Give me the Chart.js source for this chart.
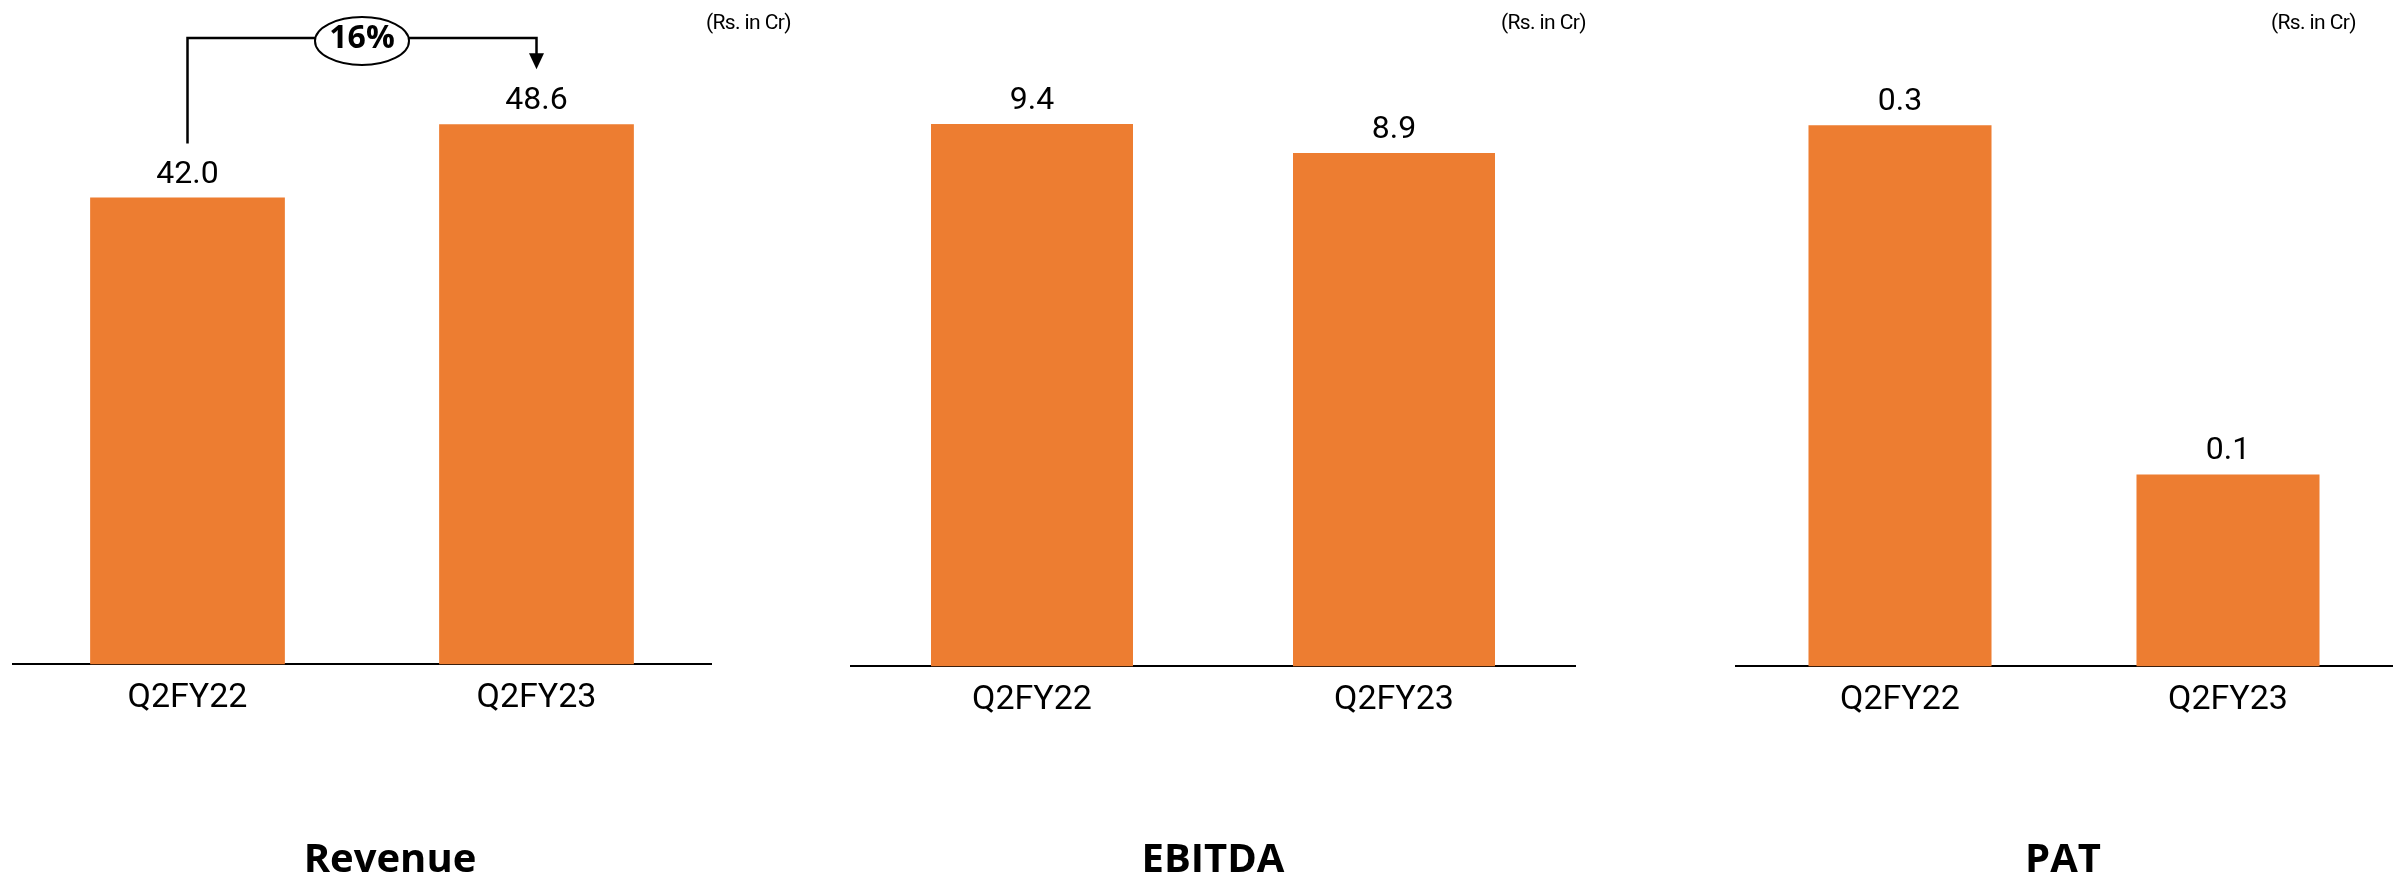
<!DOCTYPE html>
<html>
<head>
<meta charset="utf-8">
<script src="https://cdn.jsdelivr.net/npm/chart.js@4.4.1/dist/chart.umd.min.js"></script>
<style>
  html, body { margin: 0; padding: 0; background: #ffffff; }
  body { width: 2402px; height: 885px; position: relative; overflow: hidden; }
  .panel { position: absolute; top: 0; height: 885px; }
  .title { position: absolute; top: 837px; font-family: "Open Sans", sans-serif; font-weight: 700; font-size: 40px; line-height: 40px; color: #000; text-align: center; width: 400px; white-space: nowrap; }
  .unit { position: absolute; top: 12px; font-family: Roboto, sans-serif; font-size: 21px; line-height: 21px; letter-spacing: -0.6px; color: #000; text-align: right; width: 200px; white-space: nowrap; }
</style>
</head>
<body>
<div class="panel" style="left:0px;width:800px;"><canvas id="c1" width="800" height="885"></canvas></div>
<div class="panel" style="left:800px;width:820px;"><canvas id="c2" width="820" height="885"></canvas></div>
<div class="panel" style="left:1620px;width:782px;"><canvas id="c3" width="782" height="885"></canvas></div>

<div class="title" style="left:190px;">Revenue</div>
<div class="title" style="left:1013px;">EBITDA</div>
<div class="title" style="left:1863px;">PAT</div>

<div class="unit" style="left:591px;">(Rs. in Cr)</div>
<div class="unit" style="left:1386px;">(Rs. in Cr)</div>
<div class="unit" style="left:2156px;">(Rs. in Cr)</div>

<script>
// ---- data ----
const categories = ["Q2FY22", "Q2FY23"];
const revenueValues = [42.0, 48.6];
const ebitdaValues = [9.4, 8.9];
const patValues = [0.31, 0.11];
const panelTitles = ["Revenue", "EBITDA", "PAT"];
const unitLabel = "(Rs. in Cr)";

const BAR_COLOR = "#ED7D31";

const valueLabels = {
  id: "valueLabels",
  afterDatasetsDraw(chart) {
    const ctx = chart.ctx;
    const meta = chart.getDatasetMeta(0);
    const vals = chart.data.datasets[0].data;
    ctx.save();
    ctx.font = "32px Roboto";
    ctx.fillStyle = "#000";
    ctx.textAlign = "center";
    ctx.textBaseline = "alphabetic";
    meta.data.forEach((bar, i) => {
      ctx.fillText(vals[i].toFixed(1), bar.x, bar.y - 15);
    });
    ctx.restore();
  }
};

const growthArrow = {
  id: "growthArrow",
  afterDraw(chart) {
    const ctx = chart.ctx;
    const meta = chart.getDatasetMeta(0);
    const b0 = meta.data[0], b1 = meta.data[1];
    const v = chart.data.datasets[0].data;
    const pct = Math.round((v[1] / v[0] - 1) * 100) + "%";
    const yLine = 38;
    ctx.save();
    ctx.strokeStyle = "#000";
    ctx.fillStyle = "#000";
    ctx.lineWidth = 2.5;
    ctx.beginPath();
    ctx.moveTo(b0.x, b0.y - 54);
    ctx.lineTo(b0.x, yLine);
    ctx.lineTo(b1.x, yLine);
    ctx.lineTo(b1.x, b1.y - 70);
    ctx.stroke();
    // arrow head
    ctx.beginPath();
    ctx.moveTo(b1.x - 7.5, b1.y - 71);
    ctx.lineTo(b1.x + 7.5, b1.y - 71);
    ctx.lineTo(b1.x, b1.y - 55);
    ctx.closePath();
    ctx.fill();
    // ellipse
    const cx = (b0.x + b1.x) / 2;
    ctx.beginPath();
    ctx.ellipse(cx, 41, 47, 24, 0, 0, Math.PI * 2);
    ctx.fillStyle = "#fff";
    ctx.fill();
    ctx.lineWidth = 2;
    ctx.stroke();
    ctx.fillStyle = "#000";
    ctx.font = "700 32px 'Open Sans'";
    ctx.textAlign = "center";
    ctx.textBaseline = "alphabetic";
    ctx.fillText(pct, cx, 48);
    ctx.restore();
  }
};

function makeChart(id, values, yMax, pad, extraPlugins) {
  return new Chart(document.getElementById(id), {
    type: "bar",
    data: {
      labels: categories,
      datasets: [{
        data: values,
        backgroundColor: BAR_COLOR,
        borderWidth: 0,
        barPercentage: 0.558,
        categoryPercentage: 1.0
      }]
    },
    options: {
      responsive: false,
      animation: false,
      layout: { padding: pad },
      plugins: {
        legend: { display: false },
        tooltip: { enabled: false },
        title: { display: false }
      },
      scales: {
        x: {
          grid: { display: false, drawTicks: false },
          border: { display: true, color: "#000", width: 2 },
          ticks: {
            color: "#000",
            font: { family: "Roboto", size: 34 },
            padding: 14,
            maxRotation: 0
          }
        },
        y: {
          display: false,
          min: 0,
          max: yMax
        }
      }
    },
    plugins: [valueLabels].concat(extraPlugins || [])
  });
}

makeChart("c1", revenueValues, 54.37, { left: 13, right: 89, top: 60, bottom: 151.8 }, [growthArrow]);
makeChart("c2", ebitdaValues, 10.51, { left: 51, right: 45, top: 60, bottom: 149.8 });
makeChart("c3", patValues, 0.3474, { left: 116, right: 10, top: 60, bottom: 149.8 });
</script>
</body>
</html>
